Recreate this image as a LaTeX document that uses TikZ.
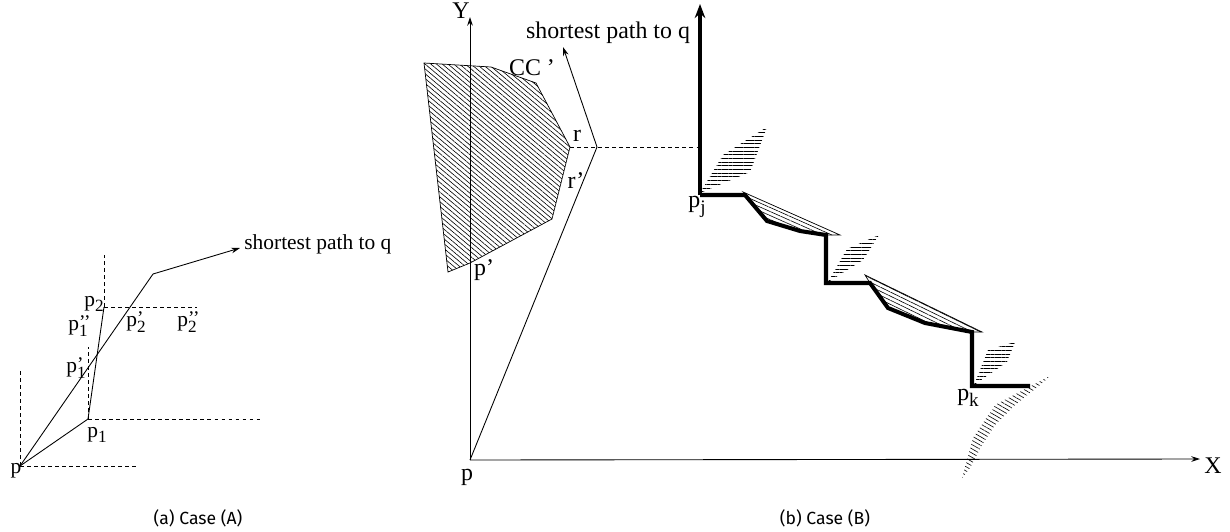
\documentclass[tikz,border=0pt]{standalone}
\usepackage{fontspec}
\setmainfont{Liberation Serif}
\newfontfamily\capfont{Fira Sans}
\usetikzlibrary{arrows.meta,patterns.meta}
\newcommand{\plab}[2]{p\rlap{\raisebox{0.2ex}{\scalebox{0.9}{#1}}}\raisebox{-0.55ex}{\scalebox{0.8}{#2}}}

\begin{document}
\begin{tikzpicture}[x=0.02cm, y=-0.02cm, >={Stealth[length=5pt,width=3.2pt]},
  guide/.style={dash pattern=on 2pt off 2pt, line width=0.4pt},
  route/.style={line width=0.5pt},
  stair/.style={line width=2.3pt, line join=miter},
  hatch/.style={pattern={Lines[angle=#1, distance=2.1pt, line width=0.35pt]}},
  lab/.style={font=\fontsize{12.2}{14}\selectfont, inner sep=0pt},
  labb/.style={font=\fontsize{13.6}{16}\selectfont, inner sep=0pt}]
  \useasboundingbox (0,0) rectangle (1230,531);

  % (a) Case (A)
  \coordinate (p) at (20,466);
  \coordinate (p1) at (88,419);
  \coordinate (p2) at (104,307);
  \coordinate (bend) at (153,274);
  \coordinate (tipa) at (240,248);
  \coordinate (pup) at (20,370);
  \coordinate (pright) at (138,466);
  \coordinate (p1up) at (88,347);
  \coordinate (p1right) at (263,419);
  \coordinate (p2up) at (104,255);
  \coordinate (p2right) at (197,307);

  % guide lines
  \draw[guide] (p) -- (pup);
  \draw[guide] (p) -- (pright);
  \draw[guide] (p1) -- (p1up);
  \draw[guide] (p1) -- (p1right);
  \draw[guide] (p2) -- (p2up);
  \draw[guide] (p2) -- (p2right);

  % paths
  \draw[route] (p) -- (p1) -- (p2);
  \draw[route] (p) -- (bend);
  \draw[route, ->] (bend) -- (tipa);
  \node[lab, anchor=west] (qa) at (244,244) {shortest path to q};

  \node[lab] (lp) at (16,471) {p};
  \node[lab] (lp1) at (97,435) {\plab{}{1}};
  \node[lab] (lp2) at (94,304) {\plab{}{2}};
  \node[lab] (lp1a) at (76,368) {\plab{’}{1}};
  \node[lab] (lp1b) at (78,326) {\plab{’’}{1}};
  \node[lab] (lp2a) at (136,322) {\plab{’}{2}};
  \node[lab] (lp2b) at (187,322) {\plab{’’}{2}};

  % (b) Case (B)
  \coordinate (o) at (470,460);
  \coordinate (ytip) at (470,17);
  \coordinate (xtip) at (1200,459);
  \coordinate (apex) at (597,147);
  \coordinate (tipb) at (563,47);
  \coordinate (r) at (570,147);
  \coordinate (rline) at (697,147);
  \coordinate (pp) at (470,263);

  % axes
  \draw[route, ->] (o) -- (ytip);
  \draw[route, ->] (o) -- (xtip);
  \node[labb] (ly) at (461,11) {Y};
  \node[labb] (lx) at (1213,466) {X};
  \node[labb] (lo) at (467,477) {p};

  % obstacle CC'
  \draw[line width=0.4pt, hatch=-40] (424,63) -- (491,67) -- (536,83) -- (r)
    -- (552,219) -- (pp) -- (448,272) -- cycle;
  \node[labb] (lcc) at (532,68) {CC ’};
  \node[labb] (lr) at (577,136) {r};
  \node[labb] (lr1) at (576,181) {r’};
  \node[labb] (lpp) at (484,270) {p’};

  % shortest path
  \draw[route] (o) -- (apex);
  \draw[route, ->] (apex) -- (tipb);
  \draw[guide] (r) -- (rline);
  \node[labb] (qb) at (608,33) {shortest path to q};

  % obstacles along the staircase
  \fill[hatch=0] (700,193) -- (723,155) -- (767,127) -- (750,172) -- cycle;
  \draw[line width=0.4pt, hatch=-24] (743,192) -- (840,235) -- (826,235) -- (800,231)
    -- (767,221) -- (746,195) -- cycle;
  \fill[hatch=0] (828,282) -- (847,249) -- (879,235) -- (863,260) -- cycle;
  \draw[line width=0.4pt, hatch=-26] (865,275) -- (982,332) -- (972,332) -- (925,323)
    -- (888,308) -- (870,283) -- cycle;
  \fill[hatch=0] (974,385) -- (988,350) -- (1015,342) -- (1007,362) -- cycle;
  \fill[hatch=-30] (1050,376) -- (995,405) -- (973,438) -- (962,478) -- (970,468)
    -- (982,445) -- (995,425) -- (1015,405) -- (1040,385) -- cycle;

  % staircase
  \coordinate (pj) at (700,195);
  \coordinate (pk) at (972,386);
  \coordinate (top) at (700,4);
  \draw[stair, -{Stealth[length=8pt,width=6pt]}] (pj) -- (top);
  \draw[stair] (pj) -- (745,195) -- (767,221) -- (800,231) -- (826,235) -- (826,283)
    -- (870,283) -- (888,308) -- (925,323) -- (972,332) -- (pk) -- (1030,386);
  \node[labb] (lpj) at (697,207) {\plab{}{j}};
  \node[labb] (lpk) at (968,398) {\plab{}{k}};

  % captions
  \node[font=\capfont\fontsize{10}{12}\selectfont] (capa) at (198,518) {(a) Case (A)};
  \node[font=\capfont\fontsize{10}{12}\selectfont] (capb) at (825,518) {(b) Case (B)};
\end{tikzpicture}
\end{document}
